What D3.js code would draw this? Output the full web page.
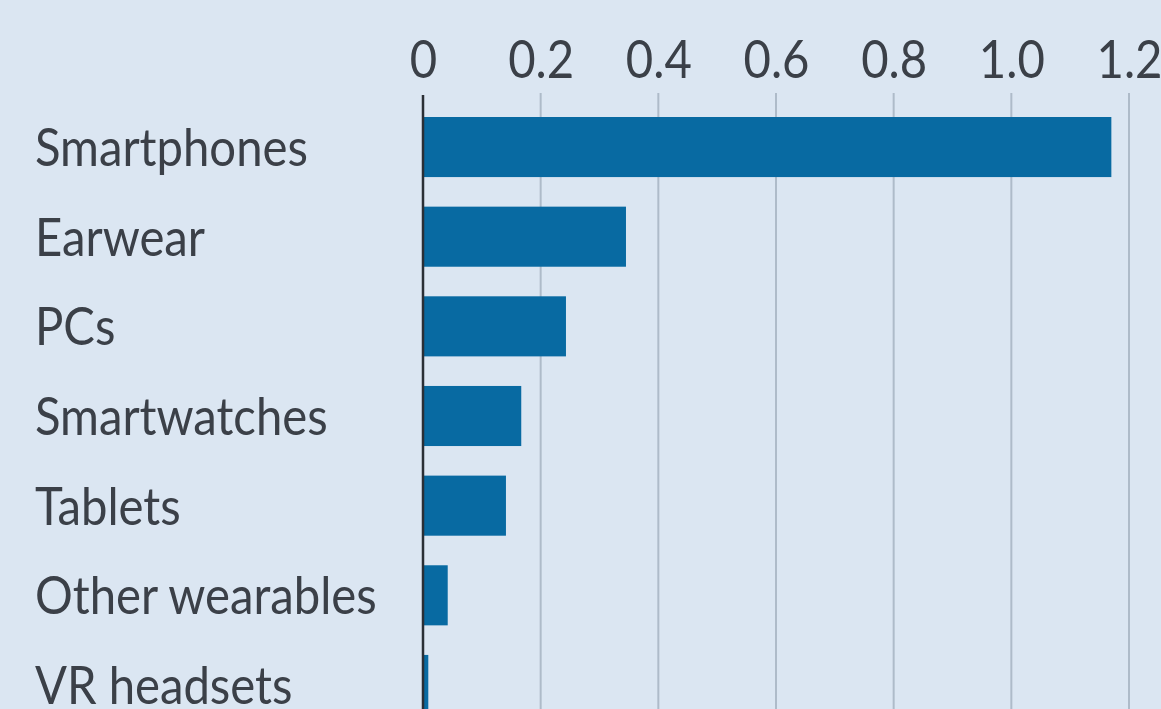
<!DOCTYPE html>
<html>
<head>
<meta charset="utf-8">
<script src="https://cdn.jsdelivr.net/npm/d3@7"></script>
<style>
  html, body { margin: 0; padding: 0; background: #dbe6f2; }
  svg { display: block; }
  text { font-family: Lato, "Liberation Sans", sans-serif; fill: #3b4048; }
</style>
</head>
<body>
<svg id="chart" width="1161" height="709"></svg>
<script>
// Device categories, top to bottom
const categories = ["Smartphones", "Earwear", "PCs", "Smartwatches", "Tablets", "Other wearables", "VR headsets"];
// Value per category
const values = [1.17, 0.345, 0.243, 0.167, 0.141, 0.042, 0.009];
// Axis tick values and their labels
const tickValues = [0, 0.2, 0.4, 0.6, 0.8, 1.0, 1.2];
const tickLabels = ["0", "0.2", "0.4", "0.6", "0.8", "1.0", "1.2"];

const svg = d3.select("#chart");
const W = 1161, H = 709;
const FONT_SIZE = 53;

svg.append("rect").attr("width", W).attr("height", H).attr("fill", "#dbe6f2");

const x = d3.scaleLinear().domain([0, 1.2]).range([423, 1129]);
const y = d3.scaleBand().domain(categories).range([117, 715]).paddingInner(0.33).paddingOuter(0);

// Condensed look: measure a reference word and squeeze text horizontally
const probe = svg.append("text").attr("font-size", FONT_SIZE).text("Smartphones");
const sx = 273 / probe.node().getComputedTextLength();
probe.remove();

// Vertical gridlines
svg.append("g").selectAll("line")
  .data(tickValues.filter(d => d > 0))
  .join("line")
  .attr("x1", d => x(d)).attr("x2", d => x(d))
  .attr("y1", 93).attr("y2", H)
  .attr("stroke", "#aebbc9").attr("stroke-width", 2);

// Tick labels across the top
const labelOf = d3.scaleOrdinal().domain(tickValues).range(tickLabels);
const xAxis = d3.axisTop(x).tickValues(tickValues).tickFormat(d => labelOf(d)).tickSize(0).tickPadding(0);
const ax = svg.append("g").attr("transform", "translate(0,78)").call(xAxis);
ax.select(".domain").remove();
ax.selectAll("text")
  .attr("dy", 0)
  .attr("y", 0)
  .attr("font-size", FONT_SIZE)
  .attr("transform", `scale(${sx},1)`)
  .style("font-family", "Lato, \"Liberation Sans\", sans-serif")
  .attr("fill", "#3b4048");

// Bars
svg.append("g").selectAll("rect")
  .data(categories.map((c, i) => ({ c, v: values[i] })))
  .join("rect")
  .attr("x", x(0))
  .attr("y", d => y(d.c))
  .attr("width", d => x(d.v) - x(0))
  .attr("height", y.bandwidth())
  .attr("fill", "#086aa2");

// Zero baseline
svg.append("line")
  .attr("x1", x(0)).attr("x2", x(0))
  .attr("y1", 95).attr("y2", H)
  .attr("stroke", "#2a2f36").attr("stroke-width", 2.5);

// Category labels
svg.append("g").selectAll("text")
  .data(categories)
  .join("text")
  .attr("transform", d => `translate(35,${y(d) + y.bandwidth() / 2 + 19}) scale(${sx},1)`)
  .attr("font-size", FONT_SIZE)
  .text(d => d);
</script>
</body>
</html>
